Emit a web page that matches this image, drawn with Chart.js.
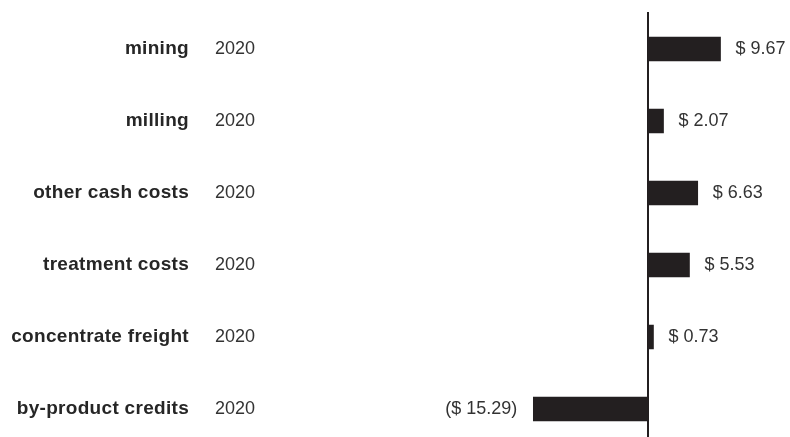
<!DOCTYPE html>
<html>
<head>
<meta charset="utf-8">
<script src="https://cdn.jsdelivr.net/npm/chart.js@4/dist/chart.umd.min.js"></script>
<style>
  html, body { margin: 0; padding: 0; background: #fff; overflow: hidden; }
  #wrap { position: relative; width: 790px; height: 445px; }
</style>
</head>
<body>
<div id="wrap"><canvas id="chart_cashCosts"></canvas></div>
<script>
// cash cost breakdown, $ per unit
var categories = ['mining', 'milling', 'other cash costs', 'treatment costs', 'concentrate freight', 'by-product credits'];
var periods = ['2020', '2020', '2020', '2020', '2020', '2020'];
var costs = [9.67, 2.07, 6.63, 5.53, 0.73, -15.29];

var barColor = '#231f20';
var textFont = '"Liberation Sans", Arial, Helvetica, sans-serif';

function formatCost(v) {
    if (v < 0) return '($ ' + Math.abs(v).toFixed(2) + ')';
    return '$ ' + v.toFixed(2);
}

var chart_cashCosts = new Chart(document.getElementById('chart_cashCosts'), {
    type: 'bar',
    data: {
        labels: categories,
        datasets: [
            {
                label: '2020',
                data: costs,
                backgroundColor: barColor,
                borderWidth: 0,
                barThickness: 24
            }
        ]
    },
    options: {
        indexAxis: 'y',
        animation: false,
        responsive: true,
        maintainAspectRatio: false,
        layout: {
            padding: { left: 498, right: 29.5, top: 13, bottom: 0 }
        },
        plugins: {
            legend: { display: false },
            tooltip: { enabled: false }
        },
        scales: {
            x: {
                type: 'linear',
                min: -20,
                max: 15,
                display: false
            },
            y: {
                display: false
            }
        }
    },
    plugins: [{
        id: 'zeroLineAndLabels',
        beforeDatasetsDraw: function(chart) {
            var ctx = chart.ctx;
            var x0 = chart.scales.x.getPixelForValue(0);
            ctx.save();
            ctx.strokeStyle = barColor;
            ctx.lineWidth = 2;
            ctx.beginPath();
            ctx.moveTo(x0, 12);
            ctx.lineTo(x0, chart.height);
            ctx.stroke();
            ctx.restore();
        },
        afterDatasetsDraw: function(chart) {
            var ctx = chart.ctx;
            var yScale = chart.scales.y;
            var bars = chart.getDatasetMeta(0).data;
            ctx.save();
            ctx.textBaseline = 'middle';
            categories.forEach(function(name, i) {
                var y = yScale.getPixelForValue(i);
                ctx.fillStyle = '#262626';
                ctx.font = 'bold 19px ' + textFont;
                ctx.letterSpacing = '0.3px';
                ctx.textAlign = 'right';
                ctx.fillText(name, 189, y);
                ctx.letterSpacing = '0px';
                ctx.fillStyle = '#333333';
                ctx.font = '18px ' + textFont;
                ctx.textAlign = 'left';
                ctx.fillText(periods[i], 215, y);

                var bar = bars[i];
                var v = costs[i];
                if (v >= 0) {
                    ctx.textAlign = 'left';
                    ctx.fillText(formatCost(v), bar.x + 15, y);
                } else {
                    ctx.textAlign = 'right';
                    ctx.fillText(formatCost(v), bar.x - 16, y);
                }
            });
            ctx.restore();
        }
    }]
});
</script>
</body>
</html>
